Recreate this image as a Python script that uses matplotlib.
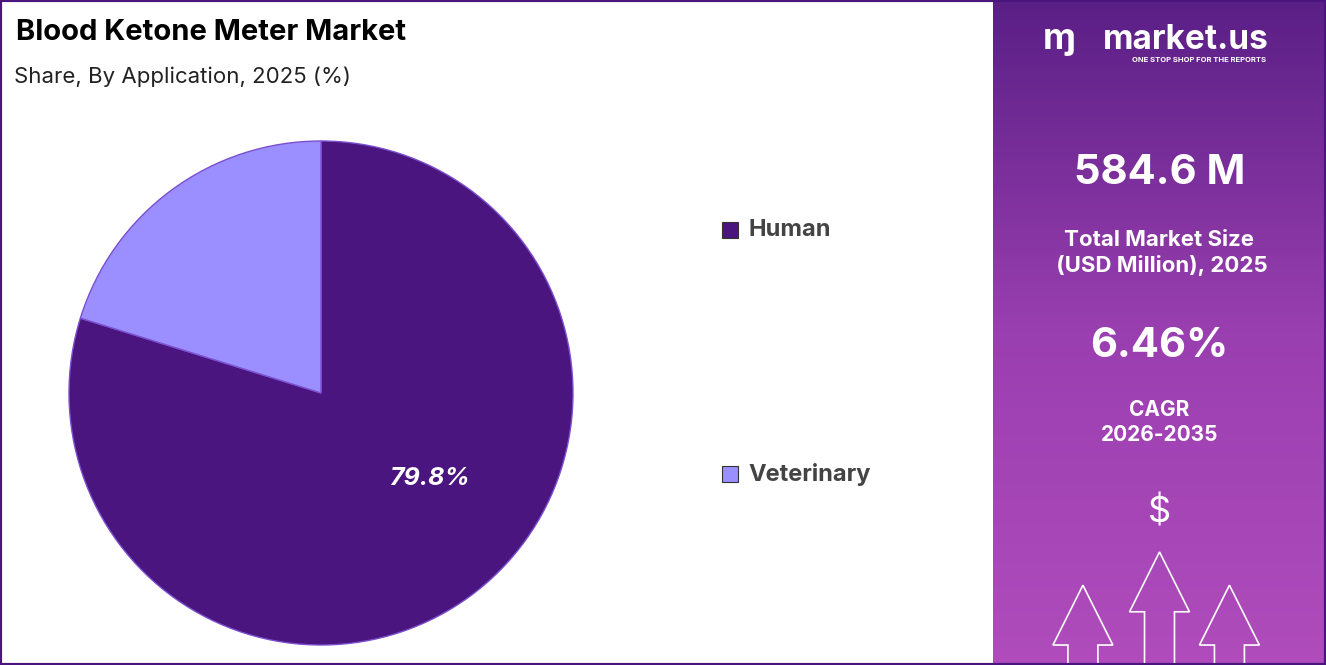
import matplotlib
matplotlib.use("Agg")
import matplotlib.pyplot as plt
import numpy as np
from matplotlib.patches import Rectangle, Polygon
from matplotlib.colors import LinearSegmentedColormap

labels = ["Human", "Veterinary"]
values = [79.8, 20.2]
colors = ["#4B157F", "#9B8FFF"]
title = "Blood Ketone Meter Market"
subtitle = "Share, By Application, 2025 (%)"
market_size = "584.6 M"
cagr = "6.46%"

W, H = 1326, 665
fig = plt.figure(figsize=(W/100, H/100), dpi=100)
fig.patch.set_facecolor("white")
plt.rcParams['font.family'] = ['Inter', 'DejaVu Sans']

bg = fig.add_axes([993/W, 0, (W-993)/W, 1])
grad = np.linspace(0, 1, 256).reshape(-1, 1)
cm = LinearSegmentedColormap.from_list("g", ["#5A1F86", "#9A3FB0", "#B04CBC"])
bg.imshow(grad, aspect="auto", cmap=cm, extent=[0, 1, 0, 1], origin="upper")
bg.set_xlim(0, 1); bg.set_ylim(0, 1); bg.axis("off")
bg.text(0.5, 0.74, market_size, color="white", fontsize=30, fontweight="bold", ha="center", va="center")
bg.text(0.5, 0.62, "Total Market Size\n (USD Million), 2025", color="white", fontsize=16, fontweight="bold", ha="center", va="center", linespacing=1.3)
bg.text(0.5, 0.48, cagr, color="white", fontsize=30, fontweight="bold", ha="center", va="center")
bg.text(0.5, 0.365, "CAGR\n2026-2035", color="white", fontsize=15, fontweight="bold", ha="center", va="center", linespacing=1.3)
bg.text(0.5, 0.23, "$", color="white", fontsize=26, ha="center", va="center")
bg.text(0.58, 0.94, "market.us", color="white", fontsize=24, fontweight="bold", ha="center", va="center")
bg.text(0.62, 0.91, "ONE STOP SHOP FOR THE REPORTS", color="white", fontsize=5.5, fontweight="bold", ha="center", va="center")
bg.text(0.2, 0.94, "ɱ", color="white", fontsize=26, fontweight="bold", ha="center", va="center")
def arrow(cx, base, top, w):
    pts = [(cx-w*0.5, base), (cx-w*0.5, top-0.09), (cx-w, top-0.09), (cx, top), (cx+w, top-0.09), (cx+w*0.5, top-0.09), (cx+w*0.5, base)]
    bg.add_patch(Polygon(pts, closed=False, fill=False, edgecolor="white", lw=1.2))
arrow(0.27, 0.0, 0.12, 0.09)
arrow(0.5, 0.0, 0.17, 0.09)
arrow(0.71, 0.0, 0.12, 0.09)

R = 252
ax = fig.add_axes([(321-R)/W, (H-393-R)/H, 2*R/W, 2*R/H])
ax.pie(values, colors=colors, startangle=90, counterclock=False, radius=1,
       wedgeprops=dict(edgecolor="#7B4FD0", linewidth=1))
ax.set_xlim(-1, 1); ax.set_ylim(-1, 1)
ax.set_aspect("equal")
ax.text(0.43, -0.34, "79.8%", color="white", fontsize=18, fontweight="bold", style="italic", ha="center", va="center")

fig.text(16/W, 1-33/H, title, fontsize=21, fontweight="bold", color="black", va="center")
fig.text(14/W, 1-77/H, subtitle, fontsize=16, color="#222222", va="center")

for i, (lab, y) in enumerate(zip(labels, [230, 474])):
    fig.patches.append(Rectangle((722/W, 1-(y+8)/H), 16/W, 16/H, transform=fig.transFigure,
                                 facecolor=colors[i], edgecolor="#333333", lw=0.8))
    fig.text(748/W, 1-y/H, lab, fontsize=17, fontweight="bold", color="#444444", va="center")

fig.patches.append(Rectangle((0, 0), 1, 1, transform=fig.transFigure, fill=False, edgecolor="#4B157F", lw=3))
fig.savefig("out.png", dpi=100)
